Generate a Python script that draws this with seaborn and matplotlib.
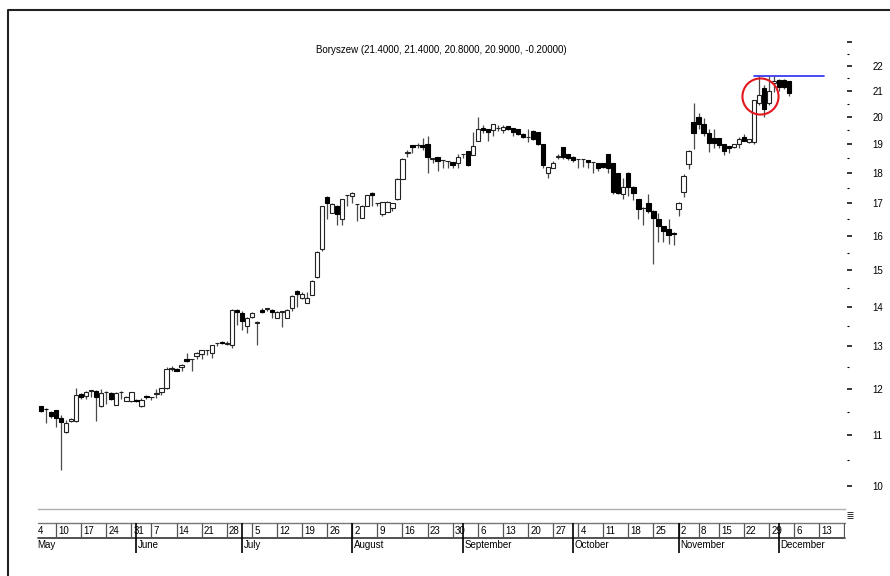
import numpy as np
import pandas as pd
import matplotlib
matplotlib.use("Agg")
import matplotlib.pyplot as plt
import seaborn as sns
from matplotlib.ticker import FixedLocator, FixedFormatter, NullFormatter
from matplotlib.lines import Line2D

# ---------------- data ----------------
ticker_name = "Boryszew"
last_change = -0.20

opens = [11.61, 11.56, 11.50, 11.53, 11.37, 11.07, 11.30, 11.30, 11.88, 11.85,
         11.96, 11.96, 11.61, 11.94, 11.91, 11.65, 11.94, 11.73, 11.72, 11.76,
         11.61, 11.85, 11.81, 11.88, 11.94, 12.01, 12.46, 12.45, 12.51, 12.69,
         12.68, 12.76, 12.80, 12.91, 12.83, 13.07, 13.11, 13.06, 13.03, 13.92,
         13.84, 13.51, 13.73, 13.59, 13.92, 13.93, 13.92, 13.72, 13.86, 13.72,
         13.96, 14.42, 14.22, 14.11, 14.31, 14.81, 15.60, 17.21, 16.70, 16.92,
         16.52, 17.27, 17.23, 16.98, 16.55, 16.92, 17.33, 17.00, 16.67, 16.73,
         16.84, 17.14, 17.80, 18.69, 18.96, 18.95, 18.96, 19.00, 18.49, 18.54,
         18.44, 18.40, 18.36, 18.33, 18.64, 18.74, 18.62, 19.12, 19.58, 19.53,
         19.50, 19.58, 19.50, 19.65, 19.59, 19.53, 19.38, 19.24, 19.48, 19.42,
         18.99, 17.99, 18.17, 18.55, 18.88, 18.64, 18.56, 18.46, 18.46, 18.44,
         18.36, 18.33, 18.33, 18.64, 18.33, 17.99, 17.30, 18.01, 17.54, 17.14,
         16.86, 17.00, 16.77, 16.52, 16.28, 16.21, 16.08, 16.81, 17.38, 18.30,
         19.82, 20.00, 19.72, 19.39, 19.21, 19.21, 19.00, 18.92, 18.91, 19.00,
         19.27, 19.08, 19.08, 20.51, 21.10, 20.51, 21.30, 21.41, 21.41, 21.40]
highs = [11.63, 11.57, 11.51, 11.54, 11.43, 11.32, 11.36, 12.01, 11.90, 11.96,
         11.98, 11.97, 11.99, 11.95, 11.92, 11.93, 11.95, 11.83, 11.94, 11.78,
         11.80, 11.86, 11.82, 12.00, 12.02, 12.51, 12.52, 12.49, 12.57, 12.83,
         12.69, 12.86, 12.91, 12.92, 13.04, 13.08, 13.13, 13.12, 13.93, 13.94,
         13.90, 13.73, 13.86, 13.62, 13.96, 13.97, 13.93, 13.88, 13.90, 13.93,
         14.30, 14.45, 14.40, 14.40, 14.72, 15.54, 16.93, 17.23, 17.00, 16.95,
         17.15, 17.28, 17.36, 16.99, 16.94, 17.28, 17.35, 17.01, 17.05, 17.06,
         17.01, 17.82, 18.50, 18.80, 18.98, 19.03, 19.20, 19.30, 18.52, 18.56,
         18.45, 18.41, 18.38, 18.66, 18.65, 18.76, 19.42, 20.00, 19.70, 19.55,
         19.73, 19.68, 19.70, 19.66, 19.60, 19.54, 19.39, 19.56, 19.52, 19.43,
         19.00, 18.21, 18.40, 18.64, 18.89, 18.65, 18.57, 18.47, 18.47, 18.45,
         18.37, 18.34, 18.34, 18.65, 18.34, 18.00, 17.82, 18.02, 17.55, 17.15,
         16.88, 17.29, 16.78, 16.70, 16.29, 16.52, 16.10, 17.05, 17.95, 18.80,
         20.51, 20.14, 19.95, 19.55, 19.55, 19.22, 19.01, 18.93, 19.00, 19.25,
         19.35, 19.18, 20.64, 21.57, 21.23, 21.57, 21.57, 21.45, 21.45, 21.40]
lows = [11.50, 11.26, 11.37, 11.17, 10.30, 11.05, 11.27, 11.28, 11.77, 11.78,
        11.81, 11.30, 11.60, 11.66, 11.75, 11.64, 11.78, 11.72, 11.71, 11.71,
        11.60, 11.78, 11.75, 11.79, 11.86, 12.00, 12.42, 12.40, 12.40, 12.63,
        12.41, 12.70, 12.70, 12.78, 12.71, 13.00, 13.05, 13.02, 12.95, 13.53,
        13.40, 13.32, 13.70, 13.03, 13.83, 13.90, 13.72, 13.70, 13.48, 13.70,
        13.90, 14.00, 14.20, 14.10, 14.30, 14.79, 15.55, 16.52, 16.68, 16.33,
        16.33, 16.92, 17.00, 16.43, 16.53, 16.90, 16.90, 16.92, 16.60, 16.72,
        16.75, 17.12, 17.78, 18.55, 18.70, 18.85, 18.80, 18.01, 18.33, 18.07,
        18.15, 18.15, 18.15, 18.18, 18.50, 18.25, 18.60, 19.10, 19.40, 19.12,
        19.30, 19.48, 19.40, 19.52, 19.30, 19.32, 19.22, 19.09, 19.15, 18.98,
        18.17, 17.82, 18.15, 18.48, 18.48, 18.44, 18.36, 18.18, 18.20, 18.18,
        17.99, 18.05, 18.15, 17.99, 17.30, 17.30, 17.15, 17.25, 17.11, 16.52,
        16.33, 16.70, 15.16, 15.82, 15.80, 15.75, 15.72, 16.60, 17.21, 18.12,
        18.82, 19.55, 19.30, 18.73, 18.85, 18.85, 18.62, 18.70, 18.85, 18.85,
        19.10, 19.05, 19.00, 20.45, 20.00, 20.45, 20.95, 21.00, 21.05, 20.80]
closes = [11.52, 11.55, 11.40, 11.37, 11.28, 11.26, 11.33, 11.86, 11.81, 11.92,
          11.97, 11.81, 11.91, 11.94, 11.77, 11.91, 11.94, 11.81, 11.92, 11.74,
          11.75, 11.81, 11.81, 11.90, 12.01, 12.45, 12.48, 12.42, 12.56, 12.65,
          12.68, 12.83, 12.90, 12.91, 13.03, 13.07, 13.07, 13.08, 13.92, 13.85,
          13.64, 13.72, 13.84, 13.60, 13.85, 13.96, 13.85, 13.87, 13.88, 13.92,
          14.29, 14.33, 14.34, 14.22, 14.70, 15.52, 16.92, 17.02, 16.98, 16.66,
          17.13, 17.27, 17.33, 16.98, 16.92, 17.27, 17.27, 17.00, 17.04, 17.05,
          17.00, 17.81, 18.48, 18.71, 18.88, 18.97, 18.88, 18.54, 18.51, 18.42,
          18.44, 18.40, 18.27, 18.56, 18.64, 18.27, 18.94, 19.54, 19.50, 19.45,
          19.72, 19.58, 19.62, 19.56, 19.42, 19.37, 19.26, 19.25, 19.17, 18.99,
          18.27, 18.20, 18.33, 18.57, 18.56, 18.52, 18.44, 18.46, 18.46, 18.36,
          18.36, 18.18, 18.21, 18.17, 17.36, 17.33, 17.54, 17.54, 17.33, 16.82,
          16.86, 16.75, 16.54, 16.28, 16.13, 16.03, 16.05, 17.00, 17.91, 18.74,
          19.39, 19.72, 19.39, 19.03, 19.03, 18.96, 18.76, 18.85, 18.99, 19.17,
          19.12, 19.17, 20.62, 20.84, 20.31, 21.00, 21.40, 21.13, 21.13, 20.90]

# trading-day index of the first session of each week / month
week_labels = ['4', '10', '17', '24', '31', '7', '14', '21', '28', '5', '12', '19',
               '26', '2', '9', '16', '23', '30', '6', '13', '20', '27', '4', '11',
               '18', '25', '2', '8', '15', '22', '29', '6', '13', '20']
week_pos = [-1, 3, 8, 13, 18, 22, 27, 32, 37, 42, 47, 52, 57, 62, 67, 72, 77, 82,
            87, 92, 97, 102, 107, 112, 117, 122, 127, 131, 135, 140, 145, 150, 155, 160]
month_labels = ['May', 'June', 'July', 'August', 'September', 'October',
                'November', 'December']
month_pos = [-1, 19, 40, 62, 84, 106, 127, 147]

price_ticks = list(range(10, 24))
price_tick_labels = [str(v) if v <= 22 else '' for v in price_ticks]
price_minor_ticks = [v + 0.5 for v in range(10, 23)]

resistance_level = 21.57
resistance_span = [142, 156]
circle_center = (143.3, 20.8)

# ---------------- style ----------------
sns.set_theme(style="white")
plt.rcParams['font.family'] = ['Liberation Sans', 'DejaVu Sans']
plt.rcParams['text.color'] = 'black'

W, H = 890, 576
fig = plt.figure(figsize=(W / 100, H / 100), dpi=100)
fig.patch.set_facecolor('white')


def rect(l, t, r, b):
    return [l / W, 1 - b / H, (r - l) / W, (b - t) / H]


xlim = (-0.6, 160.16)

# ---------------- main price panel ----------------
ax = fig.add_axes(rect(38, 35.4, 845, 509))
ax.set_facecolor('white')
df = pd.DataFrame({'open': opens, 'high': highs, 'low': lows, 'close': closes})
df['idx'] = np.arange(len(df))
up = df['close'] >= df['open']

ax.vlines(df['idx'], df['low'], df['high'], color='#4a4a4a', lw=0.9, zorder=1)
ax.bar(df['idx'][up], (df['close'] - df['open'])[up], bottom=df['open'][up],
       width=0.86, facecolor='white', edgecolor='#222222', lw=0.8, zorder=2)
ax.bar(df['idx'][~up], (df['open'] - df['close'])[~up], bottom=df['close'][~up],
       width=0.86, facecolor='black', edgecolor='black', lw=0.8, zorder=2)

res = pd.DataFrame({'x': resistance_span, 'y': [resistance_level] * 2})
sns.lineplot(data=res, x='x', y='y', ax=ax, color='#2a2aee', lw=1.2, zorder=3)
ax.plot([circle_center[0]], [circle_center[1]], 'o', ms=26, mfc='none',
        mec='#e3171c', mew=1.5, zorder=4)

ax.set_yscale('log')
ax.set_ylim(9.577, 23.3)
ax.set_xlim(*xlim)
ax.set_xlabel('')
ax.set_ylabel('')
ax.yaxis.tick_right()
ax.yaxis.set_major_locator(FixedLocator(price_ticks))
ax.yaxis.set_major_formatter(FixedFormatter(price_tick_labels))
ax.yaxis.set_minor_locator(FixedLocator(price_minor_ticks))
ax.yaxis.set_minor_formatter(NullFormatter())
ax.tick_params(axis='y', which='major', right=True, left=False, length=3.6,
               width=1.1, pad=14.4, labelsize=7, colors='black', direction='out')
ax.tick_params(axis='y', which='minor', right=True, left=False, length=1.5,
               width=0.8, colors='black', direction='out')
ax.tick_params(axis='x', bottom=False, labelbottom=False)
for s in ['top', 'left']:
    ax.spines[s].set_visible(False)
ax.spines['right'].set_position(('outward', 1.5))
ax.spines['right'].set_visible(False)
ax.spines['bottom'].set_color('#b0b0b0')
ax.spines['bottom'].set_linewidth(1.0)

title = "%s (%.4f, %.4f, %.4f, %.4f, %.5f)" % (
    ticker_name, opens[-1], highs[-1], lows[-1], closes[-1], last_change)
ax.text(0.5, 0.9692, title, transform=ax.transAxes, ha='center', va='center',
        fontsize=7, color='black')

# ---------------- tiny empty lower panel ----------------
tax = fig.add_axes(rect(38, 510.5, 845, 519))
tax.set_facecolor('none')
tax.set_xlim(*xlim)
tax.set_ylim(0, 1)
tax.set_xticks([])
tax.yaxis.tick_right()
tax.set_yticks([0.1, 0.35, 0.6, 0.85])
tax.set_yticklabels([])
tax.tick_params(axis='y', right=True, left=False, length=4, width=0.7,
                colors='#333333')
for s in tax.spines.values():
    s.set_visible(False)
tax.spines['right'].set_position(('outward', 1.5))

# ---------------- date rows ----------------
dax = fig.add_axes(rect(38, 523, 845, 553))
dax.set_facecolor('none')
dax.set_xlim(*xlim)
dax.set_ylim(0, 2)
dax.axis('off')
dax.axhline(2, color='#777777', lw=1.0, clip_on=False)
dax.axhline(1, color='#333333', lw=1.2, clip_on=False)
dax.vlines(week_pos, 1, 2, color='#555555', lw=0.9)
dax.vlines(month_pos, 0, 2, color='black', lw=1.2)
for lab, p in zip(week_labels, week_pos):
    dax.text(p + 0.45, 1.5, lab, ha='left', va='center', fontsize=7,
             color='black', clip_on=True)
for lab, p in zip(month_labels, month_pos):
    dax.text(p + 0.35, 0.5, lab, ha='left', va='center', fontsize=7,
             color='black', clip_on=True)

# ---------------- outer frame ----------------
fig.add_artist(Line2D([8 / W, 8 / W, 1.0], [0.0, 1 - 10 / H, 1 - 10 / H],
                      transform=fig.transFigure, color='#222222', lw=1.5))

fig.savefig('out.png', dpi=100, facecolor='white')
